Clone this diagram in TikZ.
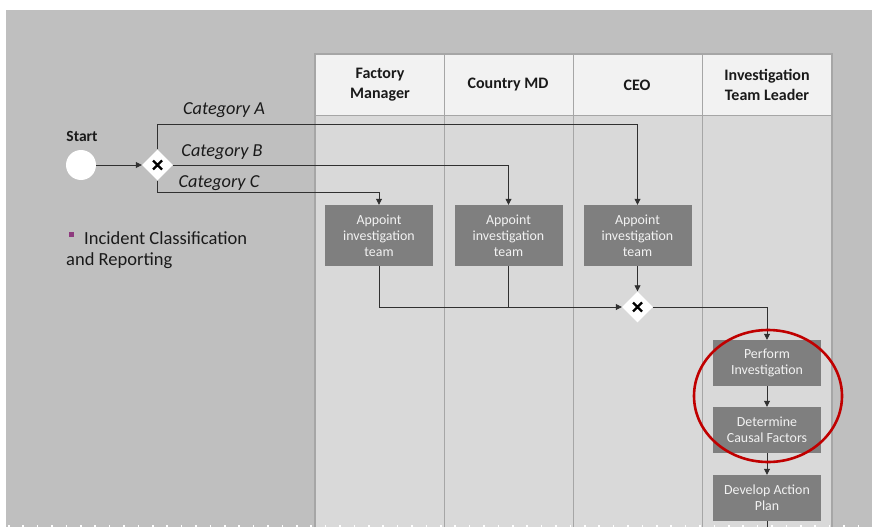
\documentclass[tikz,border=0pt]{standalone}
\usepackage{fontspec}
\setmainfont{Carlito}
\usetikzlibrary{arrows.meta,shapes.geometric}

\definecolor{slidebg}{HTML}{BFBFBF}
\definecolor{headbg}{HTML}{F2F2F2}
\definecolor{lanebg}{HTML}{D9D9D9}
\definecolor{laneline}{HTML}{A6A6A6}
\definecolor{taskfill}{HTML}{7F7F7F}
\definecolor{tasktext}{HTML}{F2F2F2}
\definecolor{flowline}{HTML}{303030}
\definecolor{ringred}{HTML}{C00000}
\definecolor{bulletpurple}{HTML}{8E3A7E}
\definecolor{inktext}{HTML}{1A1A1A}

\tikzset{
  task/.style={rectangle, fill=taskfill, text=tasktext, minimum width=108pt,
    inner sep=2pt, align=center, font=\fontsize{13.9}{16}\selectfont},
  lanehead/.style={align=center, text=inktext, font=\fontsize{16}{20}\selectfont\bfseries},
  catlabel/.style={text=inktext, font=\fontsize{18.3}{20}\selectfont\itshape, inner sep=0pt},
  flow/.style={draw=flowline, line width=0.8pt},
  arr/.style={flow, -{Triangle[length=6pt,width=6pt]}},
  xgate/.style={diamond, fill=white, minimum width=31pt, minimum height=31pt,
    inner sep=0pt, path picture={
      \draw[line width=2.4pt, black]
        ([shift={(-4.5pt,-4.5pt)}]path picture bounding box.center) --
        ([shift={(4.5pt,4.5pt)}]path picture bounding box.center)
        ([shift={(-4.5pt,4.5pt)}]path picture bounding box.center) --
        ([shift={(4.5pt,-4.5pt)}]path picture bounding box.center);}},
  plain/.style={text=inktext, font=\fontsize{18.5}{22}\selectfont, inner sep=0pt}
}

\begin{document}
\begin{tikzpicture}[x=1pt,y=-1pt]
  % page and slide background
  \fill[white] (0,0) rectangle (872,527);
  \useasboundingbox (0,0) rectangle (872,527);
  \fill[slidebg] (6,10) rectangle (872,527);

  % swimlane pool
  \fill[lanebg] (315,115) rectangle (832,527);
  \fill[headbg] (315,54) rectangle (832,115);
  \draw[laneline, line width=1pt] (315,115) -- (832,115);
  \foreach \lx in {444,573,702}
    \draw[laneline, line width=1pt] (\lx,54) -- (\lx,527);
  \draw[laneline, line width=1.5pt] (315,527) -- (315,54) -- (832,54) -- (832,527);

  % dotted slide edge along the bottom
  \draw[white, line width=1.5pt, dash pattern=on 1.5pt off 12.9pt] (8,526) -- (872,526);

  % lane headers
  \node[lanehead] (hfm)  at (380,85) {Factory\\Manager};
  \node[lanehead] (hmd)  at (508,85) {Country MD};
  \node[lanehead] (hceo) at (637,85) {CEO};
  \node[lanehead] (hitl) at (767,85) {Investigation\\Team Leader};

  % start event and first gateway
  \node[circle, fill=white, minimum size=30pt, inner sep=0pt] (start) at (81,165) {};
  \node[text=inktext, font=\fontsize{15.5}{18}\selectfont\bfseries] (startlbl) at (82,136) {Start};
  \node[xgate] (gw1) at (157.5,165) {};

  % tasks
  \node[task, minimum height=61pt] (fm)  at (379,235.5) {Appoint\\investigation\\team};
  \node[task, minimum height=61pt] (md)  at (508.5,235.5) {Appoint\\investigation\\team};
  \node[task, minimum height=61pt] (ceo) at (637.5,235.5) {Appoint\\investigation\\team};
  \node[xgate] (gw2) at (637.5,307) {};
  \node[task, minimum height=46pt] (perf) at (767,363) {Perform\\Investigation};
  \node[task, minimum height=46pt] (caus) at (767,430) {Determine\\Causal Factors};
  \node[task, minimum height=46pt] (plan) at (767,498) {Develop Action\\Plan};
  \coordinate (planout) at (767,527);

  % category labels
  \node[catlabel] (catA) at (224,110) {Category A};
  \node[catlabel] (catB) at (222,152) {Category B};
  \node[catlabel] (catC) at (219,183) {Category C};

  % side note
  \fill[bulletpurple] (68.5,231.5) rectangle (73.5,236.5) coordinate (bullet);
  \node[plain, anchor=west] (note1) at (84,238) {Incident Classification};
  \node[plain, anchor=west] (note2) at (66,261) {and Reporting};

  % flows
  \draw[arr] (start) -- (gw1.west);
  \draw[arr] (gw1.north) -- ++(0,-25) -| (ceo.north);
  \draw[arr] (gw1.east) -| (md.north);
  \draw[arr] (gw1.south) -- ++(0,12) -| (fm.north);
  \draw[arr] (fm.south) |- (gw2.west);
  \draw[flow] (md.south) -- (md.south |- gw2.west);
  \draw[arr] (ceo.south) -- (gw2.north);
  \draw[arr] (gw2.east) -| (perf.north);
  \draw[arr] (perf) -- (caus);
  \draw[arr] (caus) -- (plan);
  \draw[flow] (plan) -- (planout);

  % highlight ring
  \draw[ringred, line width=2.6pt] (768,396) ellipse [x radius=74, y radius=66];
\end{tikzpicture}
\end{document}
